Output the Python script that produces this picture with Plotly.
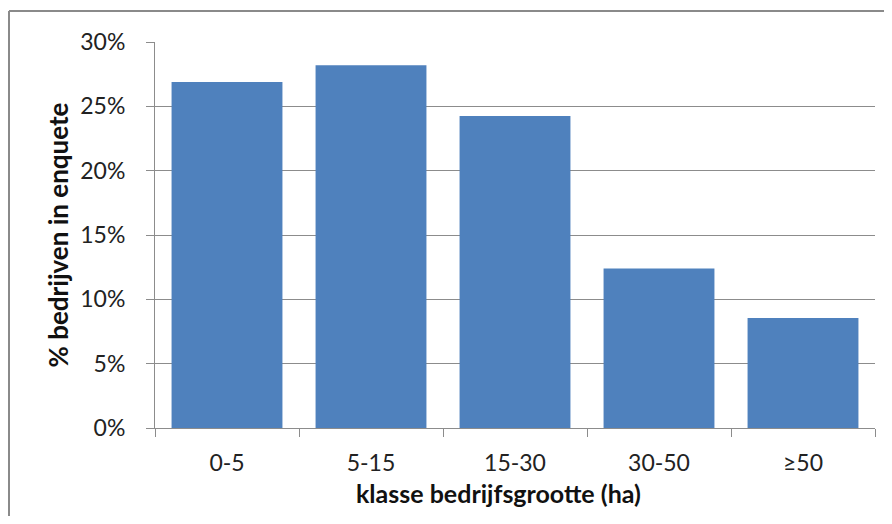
import plotly.graph_objects as go

categories = ["0-5", "5-15", "15-30", "30-50", "≥50"]
values = [0.269, 0.282, 0.2425, 0.124, 0.0855]
y_ticks = [0, 0.05, 0.10, 0.15, 0.20, 0.25, 0.30]
y_tick_labels = ["0%", "5%", "10%", "15%", "20%", "25%", "30%"]

# page body has an 8px margin; compensate
OFF = 8
W, H = 876, 508
L = 155 - OFF
T = 42 - OFF
R = OFF + W - 875
B = OFF + H - 428
pw, ph = W - L - R, H - T - B

fig = go.Figure(go.Bar(x=categories, y=values, marker=dict(color="#4F81BD", line=dict(width=0)),
                       width=0.77))

font_family = "Lato, 'Open Sans', sans-serif"
fig.update_layout(
    width=W, height=H,
    margin=dict(l=L, r=R, t=T, b=B, pad=0),
    paper_bgcolor="white", plot_bgcolor="white",
    showlegend=False,
    font=dict(family=font_family, color="#222222"),
)
fig.update_xaxes(
    type="category",
    showline=True, linecolor="#8c8c8c", linewidth=1,
    ticks="outside", ticklen=8, tickcolor="#8c8c8c", tickson="boundaries",
    tickfont=dict(size=23, family=font_family, color="#222222"),
    ticklabelstandoff=14,
    showgrid=False,
)
fig.update_yaxes(
    range=[0, 0.30],
    tickvals=y_ticks, ticktext=y_tick_labels,
    showline=True, linecolor="#8c8c8c", linewidth=1,
    ticks="outside", ticklen=8, tickcolor="#8c8c8c",
    ticklabelstandoff=16,
    showgrid=True, gridcolor="#8c8c8c", gridwidth=1,
    zeroline=False,
    tickfont=dict(size=23, family=font_family, color="#222222"),
    title=dict(text="<b>% bedrijven in enquete</b>", font=dict(size=26, family=font_family, color="#111111"), standoff=4),
)

# x-axis title (slightly left of plot centre, as in the original)
fig.add_annotation(
    text="<b>klasse bedrijfsgrootte (ha)</b>",
    xref="paper", yref="paper",
    x=(498 - OFF - L) / pw, y=-(493 - OFF - T - ph) / ph,
    xanchor="center", yanchor="middle", showarrow=False,
    font=dict(size=25, family=font_family, color="#111111"),
)

# outer chart border (left and top visible)
x0 = (9 - OFF - L) / pw
y1 = (OFF + T + ph - 11) / ph
fig.add_shape(type="line", xref="paper", yref="paper", x0=x0, x1=x0, y0=-(B + 10) / ph, y1=y1,
              line=dict(color="#8a8a8a", width=2))
fig.add_shape(type="line", xref="paper", yref="paper", x0=x0, x1=(W - L + 10) / pw, y0=y1, y1=y1,
              line=dict(color="#8a8a8a", width=2))

fig.write_html("out.html")
